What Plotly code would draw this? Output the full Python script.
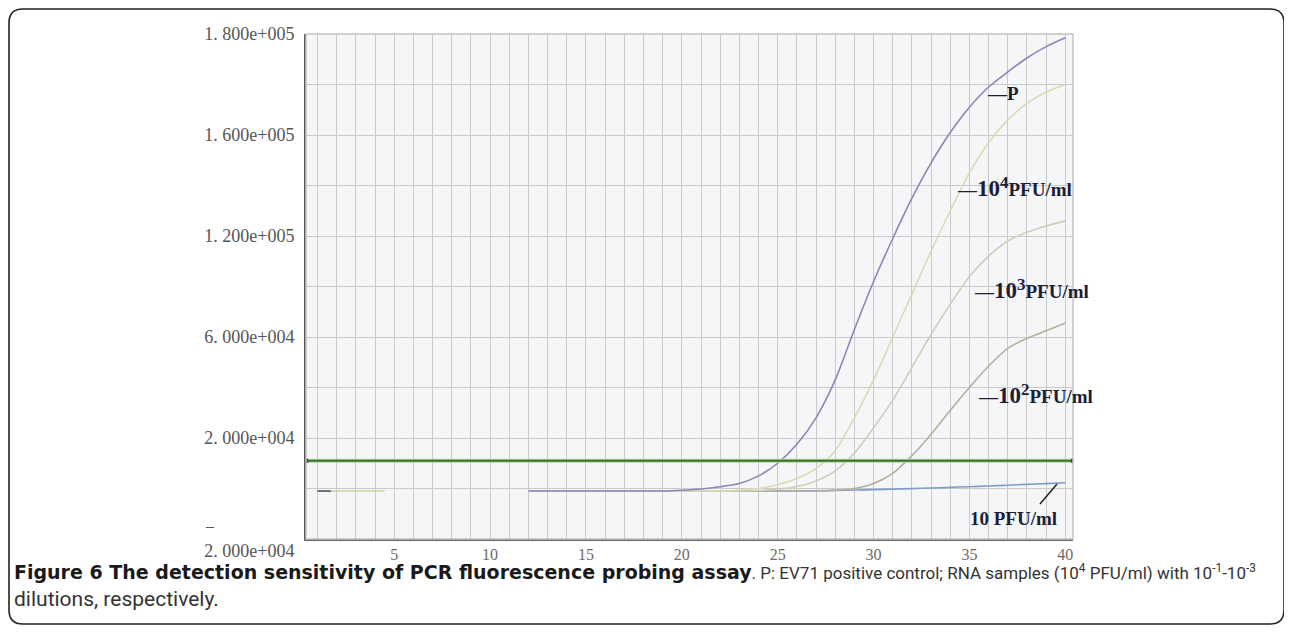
import plotly.graph_objects as go

# ---------------- data ----------------
cycles = list(range(12, 41))
p_ctrl = [-1000]*8 + [-700, -200, 700, 2000, 5000, 10000, 17500, 28000, 43000, 63000,
                      82000, 99000, 115000, 129000, 141000, 151000, 159000, 165000, 170500,
                      175000, 178500]
pfu_1e4 = [-1000]*11 + [-600, 0, 1500, 4000, 8000, 15000, 28000, 43000, 60000, 77000,
                        94000, 110000, 125000, 137000, 146000, 152500, 157000, 160000]
pfu_1e3 = [-1000]*12 + [-800, -300, 800, 3000, 7000, 14000, 24000, 35000, 48000, 61000,
                        73000, 84000, 92000, 98000, 101500, 104000, 106000]
pfu_1e2 = [-1000]*16 + [-700, 0, 2000, 6000, 13000, 21500, 31000, 40000, 48500, 55500,
                        59500, 62500, 65500]
pfu_10 = [-1000]*15 + [-900, -750, -600, -450, -250, -50, 200, 450, 700, 1000, 1300,
                       1650, 1950, 2300]
early_cycles = [1.0, 4.5]
early_vals = [-1000, -1000]
early_dark_cycles = [1.0, 1.7]
threshold = 11000
x_range = [0.4, 40.4]
y_range = [-20000, 180000]

x_tickvals = [5, 10, 15, 20, 25, 30, 35, 40]
x_ticktext = [str(v) for v in x_tickvals]
y_tickvals = [180000, 140000, 100000, 60000, 20000, -20000]
y_ticktext = ['1. 800e+005', '1. 600e+005', '1. 200e+005', '6. 000e+004',
              '2. 000e+004', '<br>2. 000e+004']

# ---------------- layout geometry ----------------
OFF = 8                      # page body margin
W, H = 1292 - OFF, 632 - OFF  # figure size
# plot area in page pixels
PL, PR, PT, PB = 306, 1073, 34, 539


def px(xp):
    return (xp - PL) / (PR - PL)


def py(yp):
    return (PB - yp) / (PB - PT)


fig = go.Figure()

series = [
    (pfu_10, '#7e9dcc', '10 PFU/ml'),
    (pfu_1e2, '#b9ae9c', '10^2 PFU/ml'),
    (pfu_1e3, '#d2ccb8', '10^3 PFU/ml'),
    (pfu_1e4, '#d9dbb3', '10^4 PFU/ml'),
    (p_ctrl, '#8f85b6', 'P'),
]
fig.add_trace(go.Scatter(x=early_cycles, y=early_vals, mode='lines',
                         line=dict(color='#c9d7a2', width=1.6), showlegend=False))
fig.add_trace(go.Scatter(x=early_dark_cycles, y=early_vals, mode='lines',
                         line=dict(color='#666677', width=1.8), showlegend=False))
for vals, col, name in series:
    fig.add_trace(go.Scatter(x=cycles, y=vals, mode='lines', name=name,
                             line=dict(color=col, width=1.6, shape='spline', smoothing=0.8),
                             showlegend=False))
# threshold line
fig.add_trace(go.Scatter(x=x_range, y=[threshold, threshold], mode='lines',
                         line=dict(color='#b3d69c', width=4), showlegend=False))
fig.add_trace(go.Scatter(x=x_range, y=[threshold, threshold], mode='lines+markers',
                         line=dict(color='#3c6e34', width=2),
                         marker=dict(size=5, color='#2f5a2a'), showlegend=False))

grid_col = '#cacacd'
fig.update_xaxes(range=x_range, tickvals=x_tickvals, ticktext=x_ticktext,
                 showgrid=True, gridcolor=grid_col, gridwidth=1,
                 minor=dict(dtick=1, tick0=0, showgrid=True, gridcolor=grid_col, gridwidth=1),
                 showline=True, linecolor='#6a6a6a', linewidth=2, zeroline=False,
                 ticks='', ticklabelstandoff=0,
                 tickfont=dict(family='Liberation Serif', size=16, color='#6a6a6a'))
fig.update_yaxes(range=y_range, tickvals=y_tickvals, ticktext=y_ticktext,
                 showgrid=True, gridcolor=grid_col, gridwidth=1,
                 minor=dict(dtick=20000, tick0=0, showgrid=True, gridcolor=grid_col, gridwidth=1),
                 showline=True, linecolor='#5a5a5a', linewidth=2, zeroline=False,
                 ticks='', ticklabelstandoff=6,
                 tickfont=dict(family='Liberation Serif', size=18, color='#555555'))

lab_font = dict(family='Liberation Serif', size=19, color='#1d1d35')


def big10(sup):
    return ("<b>—<span style='font-size:23px'>10</span><sup>"
            "<span style='font-size:17px'>%s</span></sup>PFU/ml</b>" % sup)


annotations = [
    dict(text='<b>—P</b>', x=px(985), y=py(93)),
    dict(text=big10('4'), x=px(955), y=py(187)),
    dict(text=big10('3'), x=px(972), y=py(289)),
    dict(text=big10('2'), x=px(976), y=py(394)),
    dict(text="<b>10 PFU/ml</b>", x=px(968), y=py(518)),
]
ann = []
for a in annotations:
    ann.append(dict(text=a['text'], x=a['x'], y=a['y'], xref='paper', yref='paper',
                    xanchor='left', yanchor='middle', showarrow=False, font=lab_font))
ann.append(dict(text='–', x=px(203), y=py(525), xref='paper', yref='paper',
                xanchor='left', yanchor='middle', showarrow=False,
                font=dict(family='Liberation Serif', size=16, color='#555555')))

cap_font = dict(family='Roboto, sans-serif', size=17, color='#333333')
ann.append(dict(text=("<span style='font-family:DejaVu Sans;font-size:19px;color:#1a1a1a'>"
                      "<b>Figure 6 The detection sensitivity of PCR fluorescence probing assay</b></span>. "
                      "P: EV71 positive control; RNA samples (10<sup>4</sup> PFU/ml) with "
                      "10<sup>-1</sup>-10<sup>-3</sup>"),
                x=px(12), y=py(572), xref='paper', yref='paper', xanchor='left',
                yanchor='middle', showarrow=False, font=cap_font))
ann.append(dict(text="dilutions, respectively.", x=px(12), y=py(599), xref='paper',
                yref='paper', xanchor='left', yanchor='middle', showarrow=False,
                font=dict(family='Roboto, sans-serif', size=21, color='#333333')))

# rounded outer border (page pixels)
bl, br, bt, bb, r = 9, 1284, 9, 624, 14
pts = [
    ('M', bl + r, bt), ('L', br - r, bt), ('Q', br, bt, br, bt + r),
    ('L', br, bb - r), ('Q', br, bb, br - r, bb), ('L', bl + r, bb),
    ('Q', bl, bb, bl, bb - r), ('L', bl, bt + r), ('Q', bl, bt, bl + r, bt),
]
path = ''
for p in pts:
    cmd = p[0]
    coords = p[1:]
    s = []
    for i in range(0, len(coords), 2):
        s.append('%.5f,%.5f' % (px(coords[i]), py(coords[i + 1])))
    path += cmd + ' '.join(s) + ' '
path += 'Z'

shapes = [
    dict(type='path', path=path, xref='paper', yref='paper',
         line=dict(color='#222222', width=1.6)),
    dict(type='rect', x0=0, x1=1, y0=0, y1=1, xref='paper', yref='paper',
         line=dict(color='#c4c4c4', width=1.5), layer='above'),
    dict(type='line', x0=px(1040), y0=py(504), x1=px(1057), y1=py(484),
         xref='paper', yref='paper', line=dict(color='#222222', width=1.5)),
]

fig.update_layout(width=W, height=H,
                  margin=dict(l=PL - OFF, r=W - (PR - OFF), t=PT - OFF, b=H - (PB - OFF)),
                  paper_bgcolor='white', plot_bgcolor='#f5f6f8',
                  annotations=ann, shapes=shapes, showlegend=False)

fig.write_html('out.html')
